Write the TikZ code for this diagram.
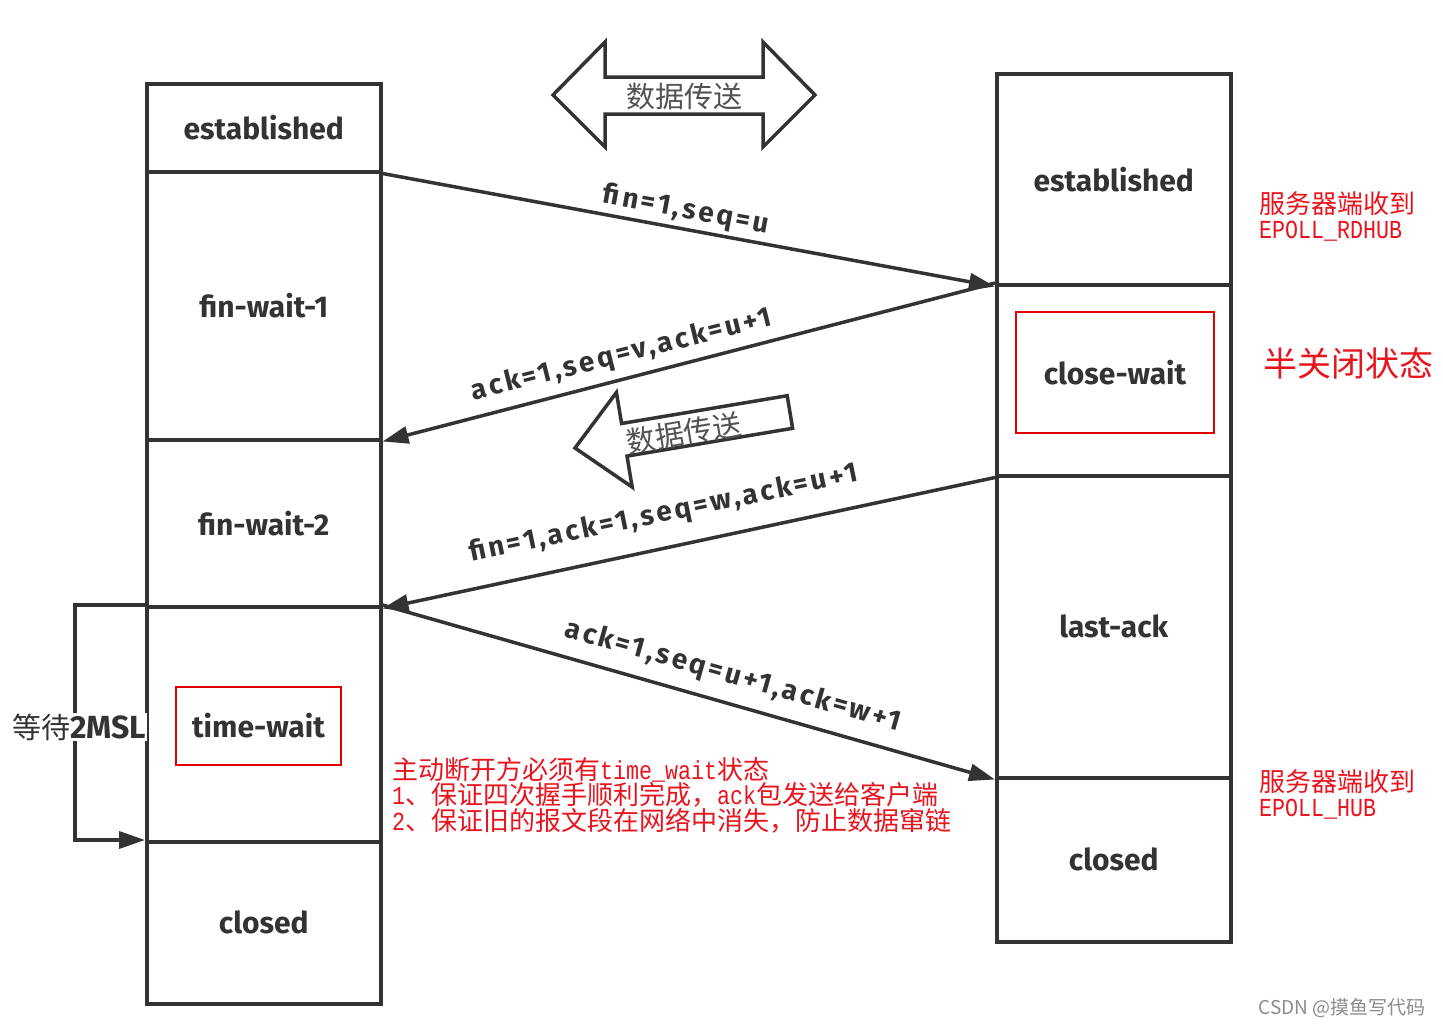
\documentclass[tikz,border=0pt]{standalone}
\usepackage{fontspec}
\usetikzlibrary{arrows.meta}
\newfontfamily\cjk{Noto Sans CJK SC}
\newfontfamily\lab{Fira Sans}
\newfontfamily\labw[LetterSpace=10]{Fira Sans}
\newfontfamily\smono[FakeStretch=0.833]{Liberation Mono}
\definecolor{ink}{HTML}{333333}
\definecolor{redtxt}{HTML}{E8141E}
\definecolor{boxred}{HTML}{E00000}
\begin{document}
\begin{tikzpicture}[x=1pt,y=-1pt,
  cell/.style={draw=ink, line width=3.5pt, minimum width=234pt, anchor=north west, inner sep=0pt,
    font=\lab\bfseries\fontsize{30}{32}\selectfont, text=ink},
  redbox/.style={draw=boxred, line width=2pt, inner sep=0pt,
    font=\lab\bfseries\fontsize{30}{32}\selectfont, text=ink},
  msg/.style={draw=ink, line width=3.5pt, -{Triangle[length=26pt,width=17pt]}},
  msglabel/.style={font=\labw\bfseries\fontsize{28}{30}\selectfont, text=ink, anchor=south},
  bigarrow/.style={draw=ink, line width=3.5pt, line join=miter, fill=white},
  cjkgray/.style={font=\cjk\fontsize{29}{30}\selectfont, text=ink!85},
  redtext/.style={font=\cjk\fontsize{26}{25.5}\selectfont, text=redtxt, align=left, inner sep=0pt}
]
\useasboundingbox (0,0) rectangle (1443,1028);
\fill[white] (0,0) rectangle (1443,1028);

% left column
\node[cell, minimum height=88pt]  (l1) at (145,82)  {established};
\node[cell, minimum height=268pt] (l2) at (145,170) {fin-wait-1};
\node[cell, minimum height=167pt] (l3) at (145,438) {fin-wait-2};
\node[cell, minimum height=235pt] (l4) at (145,605) {};
\node[cell, minimum height=162pt] (l5) at (145,840) {closed};
% right column
\node[cell, minimum height=211pt] (r1) at (995,72)  {established};
\node[cell, minimum height=191pt] (r2) at (995,283) {};
\node[cell, minimum height=302pt] (r3) at (995,474) {last-ack};
\node[cell, minimum height=164pt] (r4) at (995,776) {closed};

% red boxes
\node[redbox, minimum width=165pt, minimum height=78pt] (tw) at (258.5,726) {time-wait};
\node[redbox, minimum width=198pt, minimum height=121pt] (cw) at (1115,372.5) {close-wait};

% messages
\draw[msg] (l1.south east) -- (r1.south west)
  node[msglabel, pos=0.49, rotate=-10.4, inner sep=3pt] (m1) {fin=1,seq=u};
\draw[msg] (r2.north west) -- (l2.south east)
  node[msglabel, pos=0.60, rotate=14.1, inner sep=8pt] (m2) {ack=1,seq=v,ack=u+1};
\draw[msg] (r2.south west) -- (l3.south east)
  node[msglabel, pos=0.53, rotate=11.7, inner sep=18pt] (m3) {fin=1,ack=1,seq=w,ack=u+1};
\draw[msg] (l4.north east) -- (r3.south west)
  node[msglabel, pos=0.56, rotate=-15.8, inner sep=12pt] (m4) {ack=1,seq=u+1,ack=w+1};

% 2MSL loop
\draw[msg] (l4.north west) -- ++(-70,0) |- (l5.north west);
\node[fill=white, inner sep=1pt, text=ink] (wait) at (79,727)
  {{\cjk\fontsize{29}{30}\selectfont 等待}{\lab\bfseries\fontsize{32}{32}\selectfont 2MSL}};

% data transfer arrows
\draw[bigarrow] (553,95) -- (605,42) -- (605,77) -- (763,77) -- (763,42) -- (815,95)
  -- (763,147) -- (763,114) -- (605,114) -- (605,147) -- cycle;
\node[cjkgray] (dt1) at (684,97) {数据传送};
\draw[bigarrow] (575,448) -- (616.4,392.5) -- (621.6,423.5) -- (787.2,395.7) -- (792.6,428.3)
  -- (627.0,456.1) -- (632.2,487.1) -- cycle;
\node[cjkgray, rotate=9.5] (dt2) at (684,433) {数据传送};

% red notes
\node[redtext, anchor=north west] (n1) at (1259,191) {服务器端收到\\{\smono EPOLL\_RDHUB}};
\node[redtext, font=\cjk\fontsize{34}{36}\selectfont] (half) at (1348,364) {半关闭状态};
\node[redtext, anchor=north west] (n2) at (1259,769) {服务器端收到\\{\smono EPOLL\_HUB}};
\node[redtext, anchor=north west] (note) at (392,757)
  {主动断开方必须有{\smono time\_wait}状态\\
   {\smono 1}、保证四次握手顺利完成，{\smono ack}包发送给客户端\\
   {\smono 2}、保证旧的报文段在网络中消失，防止数据窜链};

% watermark
\node[font=\cjk\fontsize{19}{20}\selectfont, text=black!45] (wm) at (1342,1008) {CSDN @摸鱼写代码};
\end{tikzpicture}
\end{document}
